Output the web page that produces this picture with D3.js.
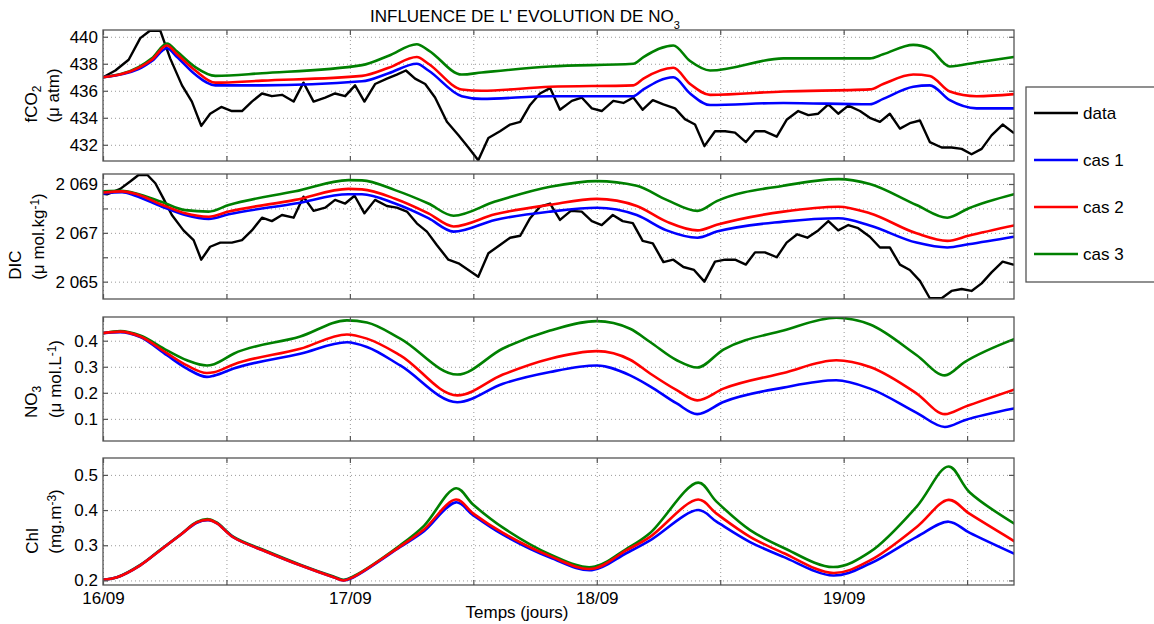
<!DOCTYPE html>
<html><head><meta charset="utf-8">
<script src="https://cdn.jsdelivr.net/npm/d3@7"></script>
<style>
body{margin:0;background:#fff}
text{font-family:"Liberation Sans",Arial,Helvetica,sans-serif;fill:#000}
</style></head>
<body><svg id="chart" width="1154" height="624"></svg>
<script>
// ---------------- DATA ----------------
const dayLabels = ["16/09","17/09","18/09","19/09"];
const xTickValues = [0,0.5,1,1.5,2,2.5,3,3.5];
const seriesNames = ["data","cas 1","cas 2","cas 3"];

// fCO2 (µatm)
const fco2Ticks = [432,434,436,438,440];
const fco2ModelT = [0,.144,.198,.259,.3,.374,.455,.644,1.049,1.157,1.271,1.318,1.453,1.534,1.811,2.148,2.189,2.31,2.378,2.459,2.756,3.106,3.16,3.282,3.349,3.43,3.538,3.69];
const fco2Cas1 = [437.0,437.6,438.2,439.15,438.5,437.2,436.4,436.4,436.7,437.3,438.0,437.5,435.6,435.4,435.6,435.6,436.1,437.0,435.8,434.95,435.1,435.0,435.4,436.3,436.4,435.3,434.7,434.7];
const fco2Cas2 = [437.0,437.7,438.3,439.35,438.7,437.5,436.6,436.75,437.1,437.7,438.5,438.0,436.1,436.0,436.3,436.4,436.9,437.7,436.5,435.7,435.95,436.1,436.5,437.2,437.1,435.95,435.6,435.75];
const fco2Cas3 = [437.0,437.75,438.4,439.5,438.9,437.75,437.1,437.3,437.9,438.6,439.45,439.0,437.2,437.35,437.8,438.0,438.5,439.35,438.2,437.5,438.4,438.4,438.7,439.4,439.1,437.8,438.1,438.5];
const fco2DataT = [0,.05,.104,.151,.19,.232,.272,.32,.36,.398,.434,.479,.522,.563,.603,.644,.684,.725,.772,.812,.853,.9,.94,.981,1.021,1.059,1.102,1.15,1.19,1.227,1.264,1.305,1.345,1.393,1.44,1.48,1.52,1.561,1.608,1.649,1.69,1.73,1.77,1.811,1.851,1.899,1.939,1.98,2.02,2.067,2.108,2.148,2.186,2.227,2.27,2.317,2.357,2.398,2.436,2.479,2.52,2.56,2.604,2.641,2.681,2.729,2.769,2.816,2.857,2.897,2.938,2.978,3.019,3.066,3.106,3.147,3.187,3.228,3.268,3.309,3.349,3.397,3.437,3.478,3.518,3.559,3.599,3.644,3.687];
const fco2DataV = [437.0,437.5,438.3,439.9,440.45,440.45,438.4,436.4,435.2,433.4,434.3,434.8,434.5,434.5,435.2,435.8,435.6,435.7,435.2,436.6,435.2,435.5,435.8,435.6,436.4,435.2,436.5,436.9,437.2,437.5,436.9,436.5,435.5,433.7,432.7,431.8,430.85,432.5,433.0,433.5,433.7,434.95,435.8,436.2,434.6,435.25,435.5,434.7,434.5,435.25,435.1,435.5,434.6,435.3,435.0,434.7,433.9,433.5,431.9,433.0,433.0,432.9,432.2,433.0,433.0,432.6,433.85,434.5,434.2,434.3,435.0,434.3,434.9,434.5,434.0,433.7,434.3,433.2,433.6,433.8,432.2,431.8,431.8,431.7,431.3,431.7,432.7,433.5,432.9];

// DIC (µmol/kg)
const dicTicks = [2065,2066,2067,2068,2069];
const dicModelT = [0,.077,.131,.239,.333,.428,.509,.779,.994,1.049,1.183,1.318,1.42,1.588,1.811,2.0,2.162,2.283,2.408,2.486,2.756,2.98,3.106,3.295,3.42,3.505,3.69];
const dicCas1 = [2068.6,2068.66,2068.52,2068.07,2067.73,2067.57,2067.76,2068.2,2068.58,2068.58,2068.2,2067.6,2067.05,2067.53,2067.87,2068.03,2067.73,2067.1,2066.8,2067.05,2067.46,2067.6,2067.3,2066.6,2066.4,2066.53,2066.84];
const dicCas2 = [2068.65,2068.7,2068.6,2068.15,2067.8,2067.66,2067.87,2068.35,2068.8,2068.78,2068.4,2067.8,2067.26,2067.76,2068.15,2068.39,2068.1,2067.46,2067.1,2067.33,2067.87,2068.07,2067.8,2066.98,2066.67,2066.88,2067.3];
const dicCas3 = [2068.7,2068.72,2068.62,2068.26,2067.93,2067.87,2068.14,2068.7,2069.16,2069.15,2068.75,2068.2,2067.7,2068.28,2068.89,2069.12,2068.93,2068.35,2067.9,2068.3,2068.93,2069.2,2069.0,2068.14,2067.62,2068.0,2068.58];
const dicDataT = [0,.016,.07,.11,.144,.18,.212,.245,.279,.326,.367,.398,.434,.475,.522,.563,.603,.644,.684,.725,.772,.812,.853,.9,.94,.981,1.019,1.059,1.102,1.15,1.19,1.231,1.271,1.312,1.352,1.399,1.44,1.48,1.52,1.561,1.608,1.649,1.69,1.73,1.77,1.811,1.851,1.895,1.939,1.98,2.02,2.065,2.105,2.146,2.186,2.227,2.27,2.31,2.351,2.394,2.436,2.479,2.52,2.56,2.604,2.641,2.681,2.729,2.769,2.812,2.853,2.897,2.938,2.978,3.019,3.059,3.106,3.147,3.187,3.228,3.268,3.309,3.349,3.397,3.437,3.478,3.518,3.559,3.599,3.644,3.687];
const dicDataV = [2068.6,2068.58,2068.8,2069.1,2069.37,2069.37,2069.03,2068.4,2067.73,2067.1,2066.7,2065.9,2066.43,2066.6,2066.6,2066.7,2067.1,2067.62,2067.48,2067.73,2067.62,2068.48,2067.9,2068.03,2068.35,2068.2,2068.52,2067.8,2068.35,2068.1,2068.03,2067.87,2067.39,2067.05,2066.5,2065.9,2065.75,2065.48,2065.2,2066.16,2066.5,2066.8,2066.88,2067.6,2068.07,2068.2,2067.53,2067.9,2067.87,2067.48,2067.32,2067.73,2067.48,2067.4,2066.67,2066.57,2065.8,2065.9,2065.6,2065.48,2065.0,2065.82,2065.9,2065.9,2065.7,2066.2,2066.2,2066.0,2066.6,2066.94,2066.8,2067.1,2067.48,2067.1,2067.32,2067.19,2066.84,2066.4,2066.4,2065.7,2065.48,2065.03,2064.32,2064.32,2064.62,2064.7,2064.62,2064.93,2065.38,2065.82,2065.7];

// NO3 (µmol/L)
const no3Ticks = [0.1,0.2,0.3,0.4];
const no3ModelT = [0,.07,.151,.259,.34,.421,.45,.529,.799,.988,1.069,1.204,1.435,1.62,1.811,2.0,2.135,2.216,2.324,2.407,2.513,2.756,2.97,3.107,3.296,3.41,3.49,3.69];
const no3Cas1 = [.429,.433,.414,.344,.293,.261,.266,.293,.35,.394,.376,.305,.164,.235,.28,.305,.267,.225,.159,.118,.165,.22,.248,.216,.123,.069,.095,.14];
const no3Cas2 = [.429,.435,.416,.352,.305,.276,.279,.309,.369,.424,.408,.344,.19,.27,.331,.36,.327,.274,.21,.171,.216,.276,.325,.299,.197,.118,.146,.212];
const no3Cas3 = [.429,.437,.42,.363,.325,.305,.31,.35,.416,.478,.47,.408,.27,.37,.439,.475,.446,.395,.325,.297,.366,.439,.488,.462,.344,.267,.318,.406];

// Chl (mg/m3)
const chlTicks = [0.2,0.3,0.4,0.5];
const chlModelT = [0,.057,.151,.232,.313,.38,.428,.462,.529,.664,.799,.934,.974,1.015,1.204,1.3,1.43,1.5,1.62,1.811,1.98,2.121,2.216,2.411,2.485,2.621,2.756,2.958,3.107,3.296,3.425,3.511,3.69];
const chlCas1 = [.202,.209,.243,.286,.329,.364,.371,.362,.322,.281,.243,.209,.2,.209,.295,.34,.422,.385,.33,.265,.229,.278,.314,.4,.367,.309,.267,.214,.248,.324,.367,.335,.276];
const chlCas2 = [.202,.209,.243,.286,.329,.365,.372,.362,.322,.281,.243,.209,.2,.21,.297,.345,.43,.39,.335,.269,.233,.286,.324,.43,.39,.324,.278,.221,.257,.352,.429,.389,.312];
const chlCas3 = [.202,.209,.244,.287,.33,.366,.374,.364,.324,.283,.245,.211,.202,.212,.3,.355,.462,.415,.35,.274,.238,.29,.335,.478,.424,.343,.293,.238,.281,.41,.524,.45,.362];

// ---------------- LAYOUT / STYLE ----------------
const plotLeft = 103, plotRight = 1014;
const xDomain = [0, 3.69];
const colors = {"data":"#000000","cas 1":"#0000ff","cas 2":"#ff0000","cas 3":"#008000"};
const frameColor = "#555";
const gridColor = "#999";
const fontSize = 17;

const svg = d3.select("#chart");
const x = d3.scaleLinear().domain(xDomain).range([plotLeft, plotRight]);

const zip = (t, v) => t.map((ti, i) => [ti, v[i]]);

const panels = [
  {id:"fco2", top:30, bottom:161, domain:[430.8,440.5], ticks:fco2Ticks, fmt:d=>d3.format("d")(d),
   model:[fco2ModelT,fco2Cas1,fco2Cas2,fco2Cas3], data:[fco2DataT,fco2DataV], curve:d3.curveMonotoneX,
   l1x:37, l2x:59,
   l1:[["fCO",null],["2","sub"]], l2:[["(\u03bc atm)",null]]},
  {id:"dic", top:174, bottom:299, domain:[2064.29,2069.41], ticks:dicTicks,
   fmt:d=> (d%2===1) ? String(d).replace(/^(\d)(\d{3})$/,"$1 $2") : "",
   model:[dicModelT,dicCas1,dicCas2,dicCas3], data:[dicDataT,dicDataV], curve:d3.curveMonotoneX,
   l1x:21, l2x:44,
   l1:[["DIC",null]], l2:[["(\u03bc mol.kg",null],["-1","sup"],[")",null]]},
  {id:"no3", top:317, bottom:441, domain:[0.015,0.491], ticks:no3Ticks, fmt:d3.format(".1f"),
   model:[no3ModelT,no3Cas1,no3Cas2,no3Cas3], data:null, curve:d3.curveMonotoneX,
   l1x:37, l2x:61,
   l1:[["NO",null],["3","sub"]], l2:[["(\u03bc mol.L",null],["-1","sup"],[")",null]]},
  {id:"chl", top:458, bottom:585, domain:[0.187,0.548], ticks:chlTicks, fmt:d3.format(".1f"),
   model:[chlModelT,chlCas1,chlCas2,chlCas3], data:null, curve:d3.curveCatmullRom.alpha(0.5),
   l1x:38, l2x:61,
   l1:[["Chl",null]], l2:[["(mg.m",null],["-3","sup"],[")",null]]}
];

function richText(sel, parts){
  parts.forEach(([txt, kind]) => {
    const ts = sel.append("tspan").text(txt);
    if (kind === "sub") ts.attr("baseline-shift","-30%").attr("font-size", 12);
    if (kind === "sup") ts.attr("baseline-shift","45%").attr("font-size", 12);
  });
}

panels.forEach((p, pi) => {
  const y = d3.scaleLinear().domain(p.domain).range([p.bottom, p.top]);
  const g = svg.append("g");
  const h = p.bottom - p.top, w = plotRight - plotLeft;

  svg.append("clipPath").attr("id","clip-"+p.id)
    .append("rect").attr("x",plotLeft).attr("y",p.top).attr("width",w).attr("height",h);

  // grid
  const gy = g.append("g").attr("transform",`translate(${plotLeft},0)`)
    .call(d3.axisLeft(y).tickValues(p.ticks).tickSize(-w).tickFormat(""));
  const gx = g.append("g").attr("transform",`translate(0,${p.bottom})`)
    .call(d3.axisBottom(x).tickValues(xTickValues).tickSize(-h).tickFormat(""));
  [gy,gx].forEach(a => {
    a.select(".domain").remove();
    a.selectAll("line").attr("stroke",gridColor).attr("stroke-dasharray","1,3").attr("stroke-width",1);
  });

  // series lines
  const dataLine = d3.line().x(d => x(d[0])).y(d => y(d[1]));
  const modelLine = d3.line().x(d => x(d[0])).y(d => y(d[1])).curve(p.curve);
  const lg = g.append("g").attr("clip-path",`url(#clip-${p.id})`).attr("fill","none")
    .attr("stroke-linejoin","round").attr("stroke-linecap","round");
  if (p.data) {
    lg.append("path").datum(zip(p.data[0], p.data[1])).attr("d", dataLine)
      .attr("stroke", colors["data"]).attr("stroke-width", 2.4);
  }
  [3,1,2].forEach(k => {
    lg.append("path").datum(zip(p.model[0], p.model[k])).attr("d", modelLine)
      .attr("stroke", colors[seriesNames[k]]).attr("stroke-width", 2.6);
  });

  // axes (ticks inside)
  const axL = g.append("g").attr("transform",`translate(${plotLeft},0)`)
    .call(d3.axisLeft(y).tickValues(p.ticks).tickSizeInner(-5).tickSizeOuter(0).tickPadding(5).tickFormat(p.fmt));
  const axR = g.append("g").attr("transform",`translate(${plotRight},0)`)
    .call(d3.axisRight(y).tickValues(p.ticks).tickSizeInner(-5).tickSizeOuter(0).tickFormat(""));
  const isLast = pi === panels.length - 1;
  const axB = g.append("g").attr("transform",`translate(0,${p.bottom})`)
    .call(d3.axisBottom(x).tickValues(xTickValues).tickSizeInner(-5).tickSizeOuter(0).tickPadding(7)
      .tickFormat(d => (isLast && Number.isInteger(d)) ? dayLabels[d] : ""));
  const axT = g.append("g").attr("transform",`translate(0,${p.top})`)
    .call(d3.axisTop(x).tickValues(xTickValues).tickSizeInner(-5).tickSizeOuter(0).tickFormat(""));
  [axL,axR,axB,axT].forEach(a => {
    a.select(".domain").remove();
    a.selectAll("line").attr("stroke",frameColor).attr("stroke-width",1.2);
    a.selectAll("text").attr("font-size",fontSize).attr("fill","#000")
      .style("font-family",'"Liberation Sans",Arial,sans-serif');
  });

  // frame
  g.append("rect").attr("x",plotLeft).attr("y",p.top).attr("width",w).attr("height",h)
    .attr("fill","none").attr("stroke",frameColor).attr("stroke-width",1.3);

  // y labels (two lines, rotated)
  const cy = (p.top + p.bottom) / 2;
  const t2 = svg.append("text").attr("font-size",fontSize).attr("text-anchor","middle")
    .attr("transform",`translate(${p.l2x},${cy}) rotate(-90)`);
  richText(t2, p.l2);
  const L = t2.node().getComputedTextLength();
  const t1 = svg.append("text").attr("font-size",fontSize).attr("text-anchor","start")
    .attr("transform",`translate(${p.l1x},${cy + L/2}) rotate(-90)`);
  richText(t1, p.l1);
});

// title
const title = svg.append("text").attr("x",370).attr("y",22).attr("font-size",fontSize);
title.append("tspan").text("INFLUENCE DE L' EVOLUTION DE NO");
title.append("tspan").text("3").attr("font-size",11).attr("dx",0).attr("dy",7);

// x label
svg.append("text").attr("x",517).attr("y",618).attr("text-anchor","middle")
  .attr("font-size",fontSize).text("Temps (jours)");

// legend
const leg = svg.append("g");
leg.append("rect").attr("x",1026).attr("y",87).attr("width",140).attr("height",195)
  .attr("fill","#fff").attr("stroke",frameColor).attr("stroke-width",1.3);
const legY = d3.scalePoint().domain(seriesNames).range([113,254]);
seriesNames.forEach(n => {
  leg.append("line").attr("x1",1034).attr("x2",1078).attr("y1",legY(n)).attr("y2",legY(n))
    .attr("stroke",colors[n]).attr("stroke-width",2.4);
  leg.append("text").attr("x",1083).attr("y",legY(n)).attr("dy","0.35em")
    .attr("font-size",fontSize).text(n);
});
</script></body></html>
